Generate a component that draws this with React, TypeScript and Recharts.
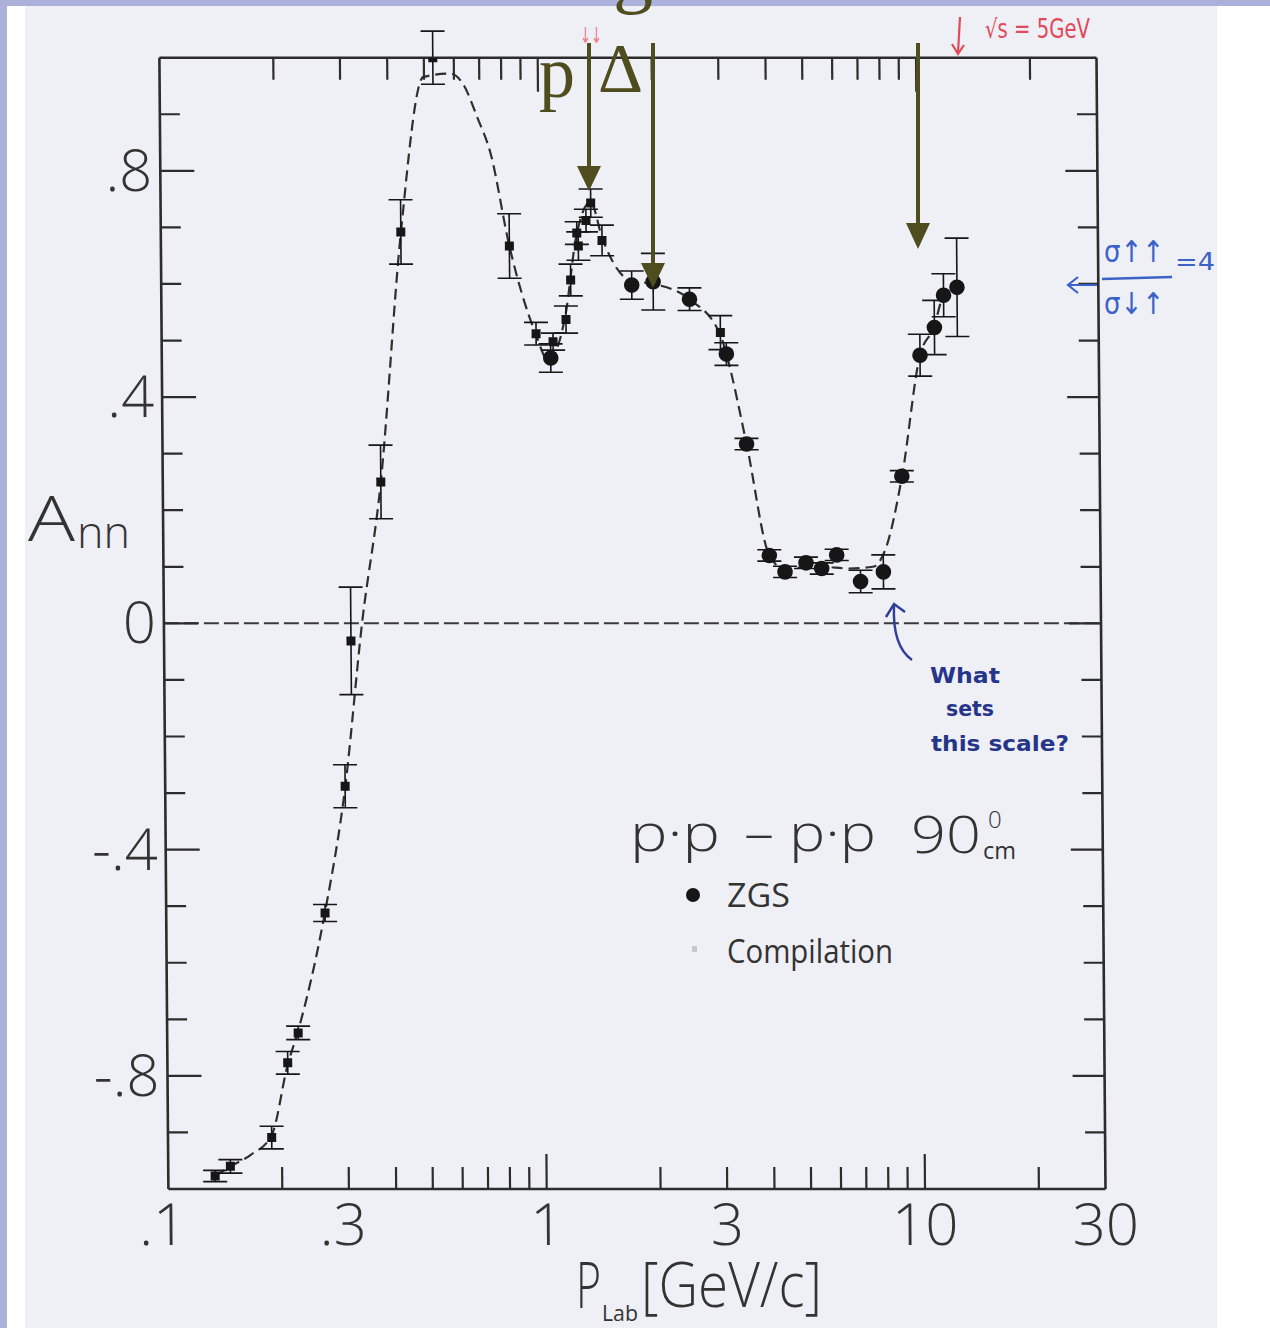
import React from 'react';
import { ComposedChart, XAxis, YAxis, Line, Scatter, ErrorBar, ReferenceLine } from 'recharts';

// ---- data ----
// Compilation points (small squares)
const compP = [0.133, 0.146, 0.188, 0.208, 0.222, 0.263, 0.299, 0.312, 0.377, 0.431, 0.528, 0.834, 0.977, 1.083, 1.173, 1.209, 1.258, 1.269, 1.331, 1.371, 1.466, 3.0];
const compA = [-0.977, -0.96, -0.909, -0.777, -0.724, -0.512, -0.288, -0.031, 0.25, 0.692, 1.0, 0.667, 0.512, 0.498, 0.537, 0.607, 0.69, 0.667, 0.712, 0.743, 0.677, 0.514];
const compErr = [0.01, 0.012, 0.02, 0.02, 0.012, 0.015, 0.038, 0.095, 0.065, 0.057, 0.047, 0.057, 0.02, 0.015, 0.024, 0.028, 0.02, 0.025, 0.02, 0.025, 0.027, 0.03];

// ZGS points (filled circles)
const zgsP = [1.067, 1.753, 1.997, 2.49, 3.108, 3.499, 3.997, 4.395, 4.996, 5.495, 6.024, 6.958, 7.998, 8.99, 10.1, 11.04, 11.69, 12.69];
const zgsA = [0.469, 0.598, 0.604, 0.573, 0.476, 0.317, 0.12, 0.091, 0.107, 0.097, 0.121, 0.074, 0.091, 0.26, 0.474, 0.523, 0.58, 0.594];
const zgsErr = [0.025, 0.025, 0.05, 0.02, 0.02, 0.01, 0.01, 0.01, 0.01, 0.01, 0.01, 0.02, 0.03, 0.01, 0.037, 0.048, 0.038, 0.087];

// dashed guide curve
const curveP = [0.133, 0.146, 0.165, 0.188, 0.208, 0.222, 0.263, 0.299, 0.334, 0.377, 0.431, 0.498, 0.587, 0.636, 0.689, 0.747, 0.834, 0.977, 1.05, 1.173, 1.25, 1.37, 1.47, 1.75, 2.0, 2.49, 3.0, 3.108, 3.5, 4.0, 4.4, 5.0, 5.5, 6.5, 7.5, 8.1, 9.0, 10.1, 11.0, 11.7, 12.7];
const curveA = [-0.977, -0.96, -0.94, -0.905, -0.78, -0.72, -0.51, -0.29, 0.0, 0.25, 0.69, 0.966, 0.972, 0.952, 0.896, 0.831, 0.667, 0.51, 0.465, 0.55, 0.68, 0.745, 0.68, 0.605, 0.6, 0.573, 0.51, 0.476, 0.317, 0.12, 0.095, 0.1, 0.1, 0.097, 0.1, 0.13, 0.26, 0.474, 0.523, 0.58, 0.594];

// axis ticks
const xDomain = [0.1, 30];
const yDomain = [-1, 1];
const xTicks = [0.1, 0.2, 0.3, 0.4, 0.5, 0.6, 0.7, 0.8, 0.9, 1, 2, 3, 4, 5, 6, 7, 8, 9, 10, 20, 30];
const xMajor = [1, 10];
const xMinor = [0.2, 0.3, 0.4, 0.5, 0.6, 0.7, 0.8, 0.9, 2, 3, 4, 5, 6, 7, 8, 9, 20];
const xLabelVals = [0.1, 0.3, 1, 3, 10, 30];
const xLabelTxt = ['.1', '.3', '1', '3', '10', '30'];
const yTicks = [-0.9, -0.8, -0.7, -0.6, -0.5, -0.4, -0.3, -0.2, -0.1, 0, 0.1, 0.2, 0.3, 0.4, 0.5, 0.6, 0.7, 0.8, 0.9];
const yLabelVals = [-0.8, -0.4, 0, 0.4, 0.8];
const yLabelTxt = ['-.8', '-.4', '0', '.4', '.8'];

const compData = compP.map((p, i) => ({ p, a: compA[i], e: compErr[i] }));
const zgsData = zgsP.map((p, i) => ({ p, a: zgsA[i], e: zgsErr[i] }));
const curveData = curveP.map((p, i) => ({ p, a: curveA[i] }));

const INK = '#2c2c2c';
const DOT = '#161616';
const SANS = "'Open Sans', 'DejaVu Sans', sans-serif";
const SERIF = "'Liberation Serif', 'DejaVu Serif', serif";
const OLIVE = '#4f4c1e';

const BottomTick = (props: any) => {
  const { x, y, payload } = props;
  const v = payload.value;
  const len = xMajor.includes(v) ? 35 : xMinor.includes(v) ? 22 : 0;
  const li = xLabelVals.indexOf(v);
  return (
    <g>
      {len > 0 && <line x1={x} x2={x} y1={y} y2={y - len} stroke={INK} strokeWidth={2.2} />}
      {li >= 0 && (
        <text x={x + (xLabelTxt[li].startsWith('.') ? -6 : 0)} y={y + 56} textAnchor="middle" fontFamily={SANS} fontWeight={300} fontSize={58} fill="#333">
          {xLabelTxt[li]}
        </text>
      )}
    </g>
  );
};

const TopTick = (props: any) => {
  const { x, y, payload } = props;
  const v = payload.value;
  const len = xMajor.includes(v) ? 34 : xMinor.includes(v) ? 22 : 0;
  return <g>{len > 0 && <line x1={x} x2={x} y1={y} y2={y + len} stroke={INK} strokeWidth={2.2} />}</g>;
};

const LeftTick = (props: any) => {
  const { x, y, payload } = props;
  const v = payload.value;
  const li = yLabelVals.indexOf(v);
  const len = li >= 0 ? 34 : 20;
  return (
    <g>
      <line x1={x} x2={x + len} y1={y} y2={y} stroke={INK} strokeWidth={2.2} />
      {li >= 0 && (
        <text x={x - 8} y={y + 20} textAnchor="end" fontFamily={SANS} fontWeight={300} fontSize={58} fill="#333">
          {yLabelTxt[li]}
        </text>
      )}
    </g>
  );
};

const RightTick = (props: any) => {
  const { x, y, payload } = props;
  const v = payload.value;
  const len = yLabelVals.includes(v) ? 32 : 20;
  return <line x1={x} x2={x - len} y1={y} y2={y} stroke={INK} strokeWidth={2.2} />;
};

const Square = (p: any) => <rect x={p.cx - 4.5} y={p.cy - 4.5} width={9} height={9} fill={DOT} />;
const Dot = (p: any) => <circle cx={p.cx} cy={p.cy} r={7.8} fill={DOT} />;

const axisLine = { stroke: INK, strokeWidth: 2.6 };

function Chart() {
  return (
    <ComposedChart width={1270} height={1328} margin={{ top: 47.7, right: 154.5, bottom: 79, left: 108.4 }}>
      <XAxis xAxisId="b" dataKey="p" type="number" scale="log" domain={xDomain} allowDataOverflow ticks={xTicks} interval={0}
        tick={BottomTick} tickLine={false} tickSize={0} tickMargin={0} axisLine={axisLine} height={60} />
      <XAxis xAxisId="t" orientation="top" dataKey="p" type="number" scale="log" domain={xDomain} allowDataOverflow ticks={xTicks} interval={0}
        tick={TopTick} tickLine={false} tickSize={0} tickMargin={0} axisLine={axisLine} height={10} />
      <YAxis yAxisId="l" dataKey="a" type="number" domain={yDomain} allowDataOverflow ticks={yTicks} interval={0}
        tick={LeftTick} tickLine={false} tickSize={0} tickMargin={0} axisLine={axisLine} width={60} />
      <YAxis yAxisId="r" orientation="right" dataKey="a" type="number" domain={yDomain} allowDataOverflow ticks={yTicks} interval={0}
        tick={RightTick} tickLine={false} tickSize={0} tickMargin={0} axisLine={axisLine} width={10} />
      <ReferenceLine xAxisId="b" yAxisId="l" y={0} stroke="#3a3a3a" strokeWidth={2} strokeDasharray="15 5" />
      <Line xAxisId="t" yAxisId="r" data={curveData} dataKey="a" stroke="none" dot={false} isAnimationActive={false} />
      <Line xAxisId="b" yAxisId="l" data={curveData} dataKey="a" type="monotone" stroke="#2e2e2e" strokeWidth={2.2}
        strokeDasharray="11 6" dot={false} isAnimationActive={false} />
      <Scatter xAxisId="b" yAxisId="l" data={compData} dataKey="a" shape={Square} isAnimationActive={false}>
        <ErrorBar dataKey="e" direction="y" width={12} stroke={DOT} strokeWidth={1.6} />
      </Scatter>
      <Scatter xAxisId="b" yAxisId="l" data={zgsData} dataKey="a" shape={Dot} isAnimationActive={false}>
        <ErrorBar dataKey="e" direction="y" width={12} stroke={DOT} strokeWidth={1.6} />
      </Scatter>
    </ComposedChart>
  );
}

function Overlay() {
  const hand = "'DejaVu Sans', sans-serif";
  return (
    <svg width={1270} height={1328} style={{ position: 'absolute', left: 0, top: 0, pointerEvents: 'none' }}>
      {/* axis titles */}
      <text x={28} y={541} fontFamily={SANS} fontWeight={300} fontSize={62} fill="#333" textLength={47} lengthAdjust="spacingAndGlyphs">A</text>
      <text x={77} y={548} fontFamily={SANS} fontWeight={300} fontSize={44} fill="#333" textLength={53} lengthAdjust="spacingAndGlyphs">nn</text>
      <text x={576} y={1308} fontFamily={SANS} fontWeight={300} fontSize={64} fill="#333" textLength={25} lengthAdjust="spacingAndGlyphs">P</text>
      <text x={602} y={1321} fontFamily={SANS} fontWeight={400} fontSize={21} fill="#333" textLength={36} lengthAdjust="spacingAndGlyphs">Lab</text>
      <text x={641} y={1307} fontFamily={SANS} fontWeight={300} fontSize={62} fill="#333" textLength={181} lengthAdjust="spacingAndGlyphs">[GeV/c]</text>

      {/* in-plot legend */}
      <text x={630} y={851} fontFamily={SANS} fontWeight={300} fontSize={52} fill="#333" textLength={90} lengthAdjust="spacingAndGlyphs">p·p</text>
      <text x={744} y={851} fontFamily={SANS} fontWeight={300} fontSize={52} fill="#333" textLength={30} lengthAdjust="spacingAndGlyphs">–</text>
      <text x={789} y={851} fontFamily={SANS} fontWeight={300} fontSize={52} fill="#333" textLength={87} lengthAdjust="spacingAndGlyphs">p·p</text>
      <text x={911} y={853} fontFamily={SANS} fontWeight={300} fontSize={52} fill="#333" textLength={70} lengthAdjust="spacingAndGlyphs">90</text>
      <text x={988} y={828} fontFamily={SANS} fontWeight={300} fontSize={24} fill="#333">0</text>
      <text x={983} y={859} fontFamily={SANS} fontWeight={400} fontSize={24} fill="#333" textLength={33} lengthAdjust="spacingAndGlyphs">cm</text>
      <circle cx={693} cy={895} r={7} fill={DOT} />
      <text x={727} y={907} fontFamily={SANS} fontWeight={400} fontSize={32} fill="#333" textLength={63} lengthAdjust="spacingAndGlyphs">ZGS</text>
      <rect x={692} y={946} width={5} height={6} fill="#c6c6cf" />
      <text x={727} y={963} fontFamily={SANS} fontWeight={400} fontSize={32} fill="#333" textLength={166} lengthAdjust="spacingAndGlyphs">Compilation</text>

      {/* olive slide overlay */}
      <text x={613} y={-2} fontFamily={SERIF} fontSize={80} fill={OLIVE}>g</text>
      <text x={539} y={97} fontFamily={SERIF} fontSize={72} fill={OLIVE}>p</text>
      <text x={598} y={92} fontFamily={SERIF} fontSize={70} fill={OLIVE}>Δ</text>
      <line x1={589} x2={589} y1={43} y2={172} stroke={OLIVE} strokeWidth={4} />
      <polygon points="577,166 601,166 589,191" fill={OLIVE} />
      <line x1={653} x2={653} y1={43} y2={268} stroke={OLIVE} strokeWidth={4} />
      <polygon points="641,263 665,263 653,288" fill={OLIVE} />
      <line x1={918} x2={918} y1={43} y2={228} stroke={OLIVE} strokeWidth={4} />
      <polygon points="906,223 930,223 918,249" fill={OLIVE} />

      {/* red handwriting */}
      <text x={580} y={43} fontFamily={hand} fontSize={22} fill="#ee7a86" textLength={22} lengthAdjust="spacingAndGlyphs">↓↓</text>
      <path d="M960 17 L958 53 M952 44 L958 54 L964 45" stroke="#e04a5a" strokeWidth={2.2} fill="none" />
      <text x={985} y={38} fontFamily={hand} fontSize={26} fill="#e04a5a" textLength={105} lengthAdjust="spacingAndGlyphs">√s = 5GeV</text>

      {/* blue handwriting */}
      <text x={1104} y={262} fontFamily={hand} fontSize={30} fill="#3b62c8" textLength={60} lengthAdjust="spacingAndGlyphs">σ↑↑</text>
      <line x1={1102} x2={1172} y1={279} y2={277} stroke="#3b62c8" strokeWidth={2.4} />
      <text x={1104} y={314} fontFamily={hand} fontSize={30} fill="#3b62c8" textLength={60} lengthAdjust="spacingAndGlyphs">σ↓↑</text>
      <text x={1175} y={270} fontFamily={hand} fontSize={24} fill="#3b62c8" textLength={40} lengthAdjust="spacingAndGlyphs">=4</text>
      <path d="M1097 285 L1068 285 M1078 277 L1068 285 L1078 293" stroke="#3b62c8" strokeWidth={2.2} fill="none" />

      <path d="M912 660 C898 650 893 630 894 606 M886 617 L894 604 L905 612" stroke="#2d3f98" strokeWidth={2.4} fill="none" />
      <text x={930} y={683} fontFamily={hand} fontWeight={700} fontSize={22} fill="#25358a" textLength={70} lengthAdjust="spacingAndGlyphs">What</text>
      <text x={946} y={716} fontFamily={hand} fontWeight={700} fontSize={22} fill="#25358a" textLength={48} lengthAdjust="spacingAndGlyphs">sets</text>
      <text x={931} y={751} fontFamily={hand} fontWeight={700} fontSize={22} fill="#25358a" textLength={138} lengthAdjust="spacingAndGlyphs">this scale?</text>
    </svg>
  );
}

export default function App() {
  return (
    <div style={{ position: 'fixed', left: 0, top: 0, width: 1270, height: 1328, background: '#ffffff', overflow: 'hidden' }}>
      <div style={{ position: 'absolute', left: 25, top: 0, width: 1192, height: 1328, background: '#efeff6' }} />
      <div style={{ position: 'absolute', left: 0, top: 0, width: 1270, height: 6, background: '#abb1da' }} />
      <div style={{ position: 'absolute', left: 0, top: 0, width: 7, height: 1328, background: '#abb1da' }} />
      <div style={{ position: 'absolute', left: 0, top: 0, width: 1270, height: 1328, transform: 'skewX(0.456deg)', transformOrigin: '0px 1189px' }}>
        <Chart />
      </div>
      <Overlay />
    </div>
  );
}
